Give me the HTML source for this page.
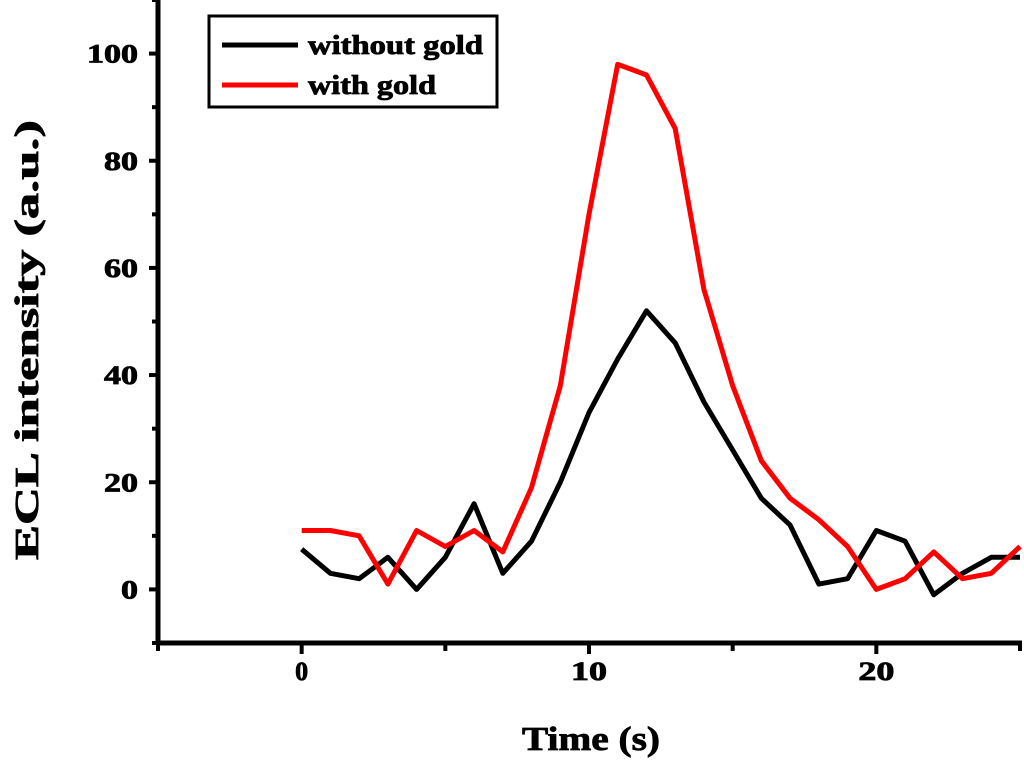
<!DOCTYPE html>
<html><head><meta charset="utf-8"><style>
body{margin:0;background:#fff;}
svg text{font-family:"Liberation Serif",serif;font-weight:bold;stroke:#000;stroke-width:0.8px;}
</style></head><body>
<svg id="chart" width="1024" height="758" xmlns="http://www.w3.org/2000/svg"></svg>
<script>
const times=[0,1,2,3,4,5,6,7,8,9,10,11,12,13,14,15,16,17,18,19,20,21,22,23,24,25];
const withoutGold=[7.5,3,2,6,0,6,16,3,9,20,33,43,52,46,35,26,17,12,1,2,11,9,-1,3,6,6];
const withGold=[11,11,10,1,11,8,11,7,19,38,70,98,96,86,56,38,24,17,13,8,0,2,7,2,3,8];
const xTicks=[0,10,20];
const yTicks=[0,20,40,60,80,100];
const NS='http://www.w3.org/2000/svg';
const svg=document.getElementById('chart');
const X0=158,X1=1020,Y0=643,Y1=0,xmin=-5,xmax=25,ymin=-10,ymax=110;
const sx=v=>X0+(v-xmin)/(xmax-xmin)*(X1-X0);
const sy=v=>Y0-(v-ymin)/(ymax-ymin)*(Y0-Y1);
function el(t,a,p){const e=document.createElementNS(NS,t);for(const k in a)e.setAttribute(k,a[k]);(p||svg).appendChild(e);return e;}
let e;
e=el('line',{x1:X0,y1:Y1,x2:X0,y2:Y0,stroke:'#000','stroke-width':5});


e=el('line',{x1:X0-2,y1:Y0,x2:X1+2,y2:Y0,stroke:'#000','stroke-width':5});


for(let v=-5;v<=25;v+=5){
 e=el('line',{x1:sx(v),y1:Y0,x2:sx(v),y2:Y0+(v%10===0?11:8),stroke:'#000','stroke-width':4});
 
 
}
for(let v=-10;v<=110;v+=10){
 e=el('line',{x1:X0-(v%20===0?9:6),y1:sy(v),x2:X0,y2:sy(v),stroke:'#000','stroke-width':4});
 
 
}
xTicks.forEach(v=>{e=el('text',{x:sx(v),y:Y0+37,'text-anchor':'middle','font-size':26});e.textContent=v;
 if(v>=10){e.setAttribute('textLength',36);e.setAttribute('lengthAdjust','spacingAndGlyphs');}
 
 });
yTicks.forEach(v=>{e=el('text',{x:X0-20,y:sy(v)+9,'text-anchor':'end','font-size':26});e.textContent=v;
 const L=String(v).length;e.setAttribute('textLength',L*17);e.setAttribute('lengthAdjust','spacingAndGlyphs');
 
 });
e=el('text',{x:522,y:750,'font-size':34,textLength:138,lengthAdjust:'spacingAndGlyphs'});e.textContent='Time (s)';


e=el('text',{x:0,y:0,'font-size':34,textLength:440,lengthAdjust:'spacingAndGlyphs',transform:'translate(38,560) rotate(-90)'});e.textContent='ECL intensity (a.u.)';


function series(vals,color,name){
 const d=times.map((t,i)=>(i?'L':'M')+sx(t).toFixed(1)+','+sy(vals[i]).toFixed(1)).join(' ');
 const p=el('path',{d:d,fill:'none',stroke:color,'stroke-width':5,'stroke-linejoin':'round'});
 
 
}
series(withoutGold,'#000','line-without-gold');
series(withGold,'#f00','line-with-gold');
const g=el('g',{});


el('rect',{x:209,y:16,width:288,height:91,fill:'#fff',stroke:'#000','stroke-width':3},g);
e=el('line',{x1:222,y1:45,x2:298,y2:45,stroke:'#000','stroke-width':5},g);


e=el('text',{x:308,y:54,'font-size':27,textLength:175,lengthAdjust:'spacingAndGlyphs'},g);e.textContent='without gold';


e=el('line',{x1:222,y1:85,x2:298,y2:85,stroke:'#f00','stroke-width':5},g);


e=el('text',{x:308,y:94,'font-size':27,textLength:128,lengthAdjust:'spacingAndGlyphs'},g);e.textContent='with gold';


</script>
</body></html>
